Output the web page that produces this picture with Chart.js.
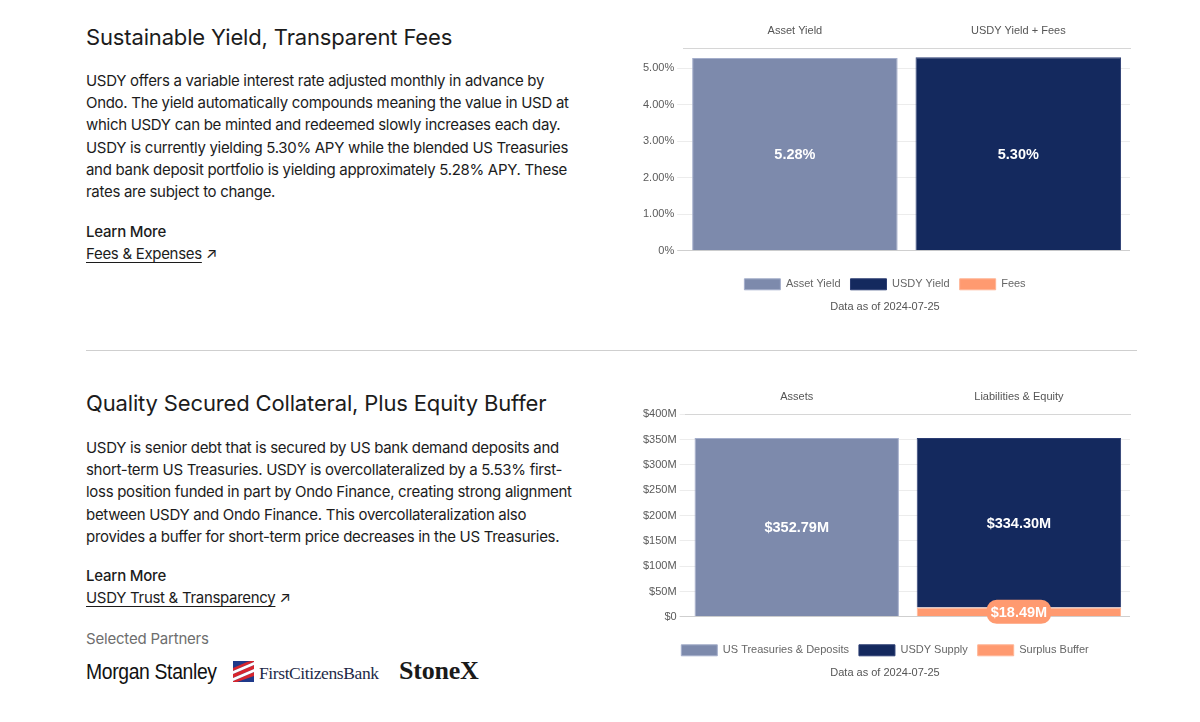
<!DOCTYPE html>
<html>
<head>
<meta charset="utf-8">
<title>USDY – Yield & Collateral</title>
<script src="https://cdn.jsdelivr.net/npm/chart.js@4.4.1/dist/chart.umd.min.js"></script>
<style>
  html, body { margin: 0; padding: 0; background: #fff; }
  body { width: 1200px; height: 722px; position: relative; overflow: hidden; color: #1c1c1c; font-family: Inter, "Noto Sans", sans-serif; }
  .abs { position: absolute; white-space: nowrap; }
  h2 { margin: 0; font-weight: 400; font-size: 22px; line-height: 26px; letter-spacing: -0.15px; }
  .para { font-size: 15px; line-height: 22.2px; letter-spacing: -0.3px; }
  .lm { font-size: 15px; line-height: 22px; font-weight: 500; letter-spacing: -0.2px; }
  .link { font-size: 15px; line-height: 22px; letter-spacing: -0.3px; }
  .link u { text-underline-offset: 3px; }
  .muted { font-size: 15px; line-height: 22px; color: #6e6e6e; letter-spacing: -0.2px; }
  .rule { position: absolute; left: 86px; top: 350px; width: 1051px; height: 1px; background: #cfcfcf; }
  .chartbox { position: absolute; left: 638px; width: 500px; height: 307px; }
  .ms { font-family: "Liberation Sans", sans-serif; font-size: 22px; letter-spacing: -0.4px; color: #111; transform: scaleX(0.88); transform-origin: left center; }
  .fcb { font-family: "Liberation Serif", serif; font-size: 17.5px; letter-spacing: -0.4px; color: #1d2a48; }
  .stx { font-family: "Liberation Serif", serif; font-size: 26px; font-weight: 700; letter-spacing: -0.2px; color: #1a1a1a; }
</style>
</head>
<body>
<div class="abs" style="left:86px;top:24px"><h2>Sustainable Yield, Transparent Fees</h2></div>
<div class="abs para" style="left:86px;top:70px">
USDY offers a variable interest rate adjusted monthly in advance by<br>
Ondo. The yield automatically compounds meaning the value in USD at<br>
which USDY can be minted and redeemed slowly increases each day.<br>
USDY is currently yielding 5.30% APY while the blended US Treasuries<br>
and bank deposit portfolio is yielding approximately 5.28% APY. These<br>
rates are subject to change.
</div>
<div class="abs lm" style="left:86px;top:221px">Learn More</div>
<div class="abs link" style="left:86px;top:243px"><u>Fees &amp; Expenses</u> ↗</div>

<div class="rule"></div>

<div class="abs" style="left:86px;top:390px"><h2>Quality Secured Collateral, Plus Equity Buffer</h2></div>
<div class="abs para" style="left:86px;top:437px">
USDY is senior debt that is secured by US bank demand deposits and<br>
short-term US Treasuries. USDY is overcollateralized by a 5.53% first-<br>
loss position funded in part by Ondo Finance, creating strong alignment<br>
between USDY and Ondo Finance. This overcollateralization also<br>
provides a buffer for short-term price decreases in the US Treasuries.
</div>
<div class="abs lm" style="left:86px;top:565px">Learn More</div>
<div class="abs link" style="left:86px;top:587px"><u>USDY Trust &amp; Transparency</u> ↗</div>
<div class="abs muted" style="left:86px;top:628px">Selected Partners</div>
<div class="abs ms" style="left:86px;top:659px">Morgan Stanley</div>
<svg class="abs" style="left:233px;top:661px" width="21" height="21" viewBox="0 0 21 21">
  <rect width="21" height="21" fill="#1f3a8a"/>
  <path d="M0 13 L21 4 L21 8 L0 17 Z M0 20 L21 11 L21 15 L4 21 L0 21 Z M0 7 L14 1 L18 0 L21 0 L21 1 L0 10 Z" fill="#d7262e"/>
  <path d="M0 10 L21 1 L21 4 L0 13 Z M0 17 L21 8 L21 11 L0 20 Z" fill="#fff"/>
</svg>
<div class="abs fcb" style="left:259px;top:663px">FirstCitizensBank</div>
<div class="abs stx" style="left:399px;top:656px">StoneX</div>

<div class="chartbox" style="top:13px"><canvas id="yieldChart"></canvas></div>
<div class="chartbox" style="top:379px"><canvas id="collateralChart"></canvas></div>

<script>
// values (data as of 2024-07-25)
const yieldCategories = ['Asset Yield', 'USDY Yield + Fees'];
const assetYield = [5.28, null];
const usdyYield = [null, 5.30];
const fees = [null, 0];
const yieldMax = 5.55;

const collateralCategories = ['Assets', 'Liabilities & Equity'];
const treasuriesDeposits = [352.79, null];
const usdySupply = [null, 334.30];
const surplusBuffer = [null, 18.49];
const collateralMax = 400;

const asOf = 'Data as of 2024-07-25';

const SLATE = '#7d8aac';
const NAVY = '#14295e';
const SALMON = '#ff9a70';
const TICK = '#5a5a5a';

Chart.defaults.font.family = '"Liberation Sans", Arial, Helvetica, sans-serif';
Chart.defaults.font.size = 11;
Chart.defaults.color = TICK;

// white value label in the middle of each bar segment (optional pill background)
const valueLabels = {
  id: 'valueLabels',
  afterDatasetsDraw(chart, args, opts) {
    const { ctx } = chart;
    chart.data.datasets.forEach((ds, i) => {
      const meta = chart.getDatasetMeta(i);
      if (meta.hidden) return;
      meta.data.forEach((bar, j) => {
        const v = ds.data[j];
        if (!v) return;
        const p = bar.getProps(['x', 'y', 'base'], true);
        const cy = (p.y + p.base) / 2;
        const text = opts.format(v);
        ctx.save();
        ctx.font = 'bold 14.5px "Liberation Sans", Arial, sans-serif';
        ctx.textAlign = 'center';
        ctx.textBaseline = 'middle';
        if (ds.pill) {
          const w = ctx.measureText(text).width + 8;
          const h = 24;
          ctx.fillStyle = ds.backgroundColor;
          ctx.beginPath();
          ctx.roundRect(p.x - w / 2, cy - h / 2, w, h, 10);
          ctx.fill();
        }
        ctx.fillStyle = '#fff';
        ctx.fillText(text, p.x, cy + 1);
        ctx.restore();
      });
    });
  }
};

function gridColor(ctx) {
  return ctx.tick && ctx.tick.value === 0 ? '#cfcfcf' : '#ececec';
}

function baseOptions(yOpts, fmt) {
  return {
    responsive: true,
    maintainAspectRatio: false,
    animation: false,
    layout: { padding: { top: 0, right: 8, left: 2, bottom: 0 } },
    datasets: { bar: { categoryPercentage: 0.92, barPercentage: 1, borderWidth: 1 } },
    plugins: {
      tooltip: { enabled: false },
      legend: {
        position: 'bottom',
        labels: { boxWidth: 36, boxHeight: 11, padding: 10, color: '#666', font: { size: 11 },
                  sort: (a, b) => a.datasetIndex - b.datasetIndex }
      },
      title: { display: true, position: 'bottom', text: asOf, color: '#555',
               font: { size: 11, weight: 'normal' }, padding: { top: 1, bottom: 6 } },
      valueLabels: { format: fmt }
    },
    scales: {
      x: {
        position: 'top', stacked: true,
        grid: { display: false, drawTicks: false },
        border: { display: true, color: '#d6d6d6' },
        ticks: { color: '#555', padding: 11 }
      },
      gap: {
        type: 'category', position: 'bottom', display: true,
        grid: { display: false, drawTicks: false }, border: { display: false },
        ticks: { display: false },
        afterFit: (s) => { s.height = 18; }
      },
      y: Object.assign({
        stacked: true, min: 0,
        border: { display: false },
        grid: { color: gridColor, tickLength: 6 }
      }, yOpts)
    }
  };
}

new Chart(document.getElementById('yieldChart'), {
  type: 'bar',
  data: {
    labels: yieldCategories,
    datasets: [
      { label: 'Asset Yield', data: assetYield, backgroundColor: SLATE, borderColor: '#a4aecb' },
      { label: 'USDY Yield', data: usdyYield, backgroundColor: NAVY, borderColor: '#2b3d73' },
      { label: 'Fees', data: fees, backgroundColor: SALMON, borderColor: '#ffb596' }
    ]
  },
  options: baseOptions({
    max: yieldMax,
    ticks: { stepSize: 1, includeBounds: false, padding: 3, color: TICK,
             callback: (v) => (v === 0 ? '0%' : v.toFixed(2) + '%') }
  }, (v) => v.toFixed(2) + '%'),
  plugins: [valueLabels]
});

new Chart(document.getElementById('collateralChart'), {
  type: 'bar',
  data: {
    labels: collateralCategories,
    datasets: [
      { label: 'US Treasuries & Deposits', data: treasuriesDeposits, backgroundColor: SLATE, borderColor: '#a4aecb', order: 0 },
      { label: 'USDY Supply', data: usdySupply, backgroundColor: NAVY, borderColor: '#2b3d73', order: 2 },
      { label: 'Surplus Buffer', data: surplusBuffer, backgroundColor: SALMON, borderColor: '#ffb596', order: 1, pill: true }
    ]
  },
  options: baseOptions({
    max: collateralMax,
    ticks: { stepSize: 50, padding: 3, color: TICK,
             callback: (v) => (v === 0 ? '$0' : '$' + v + 'M') }
  }, (v) => '$' + v.toFixed(2) + 'M'),
  plugins: [valueLabels]
});
</script>
</body>
</html>
